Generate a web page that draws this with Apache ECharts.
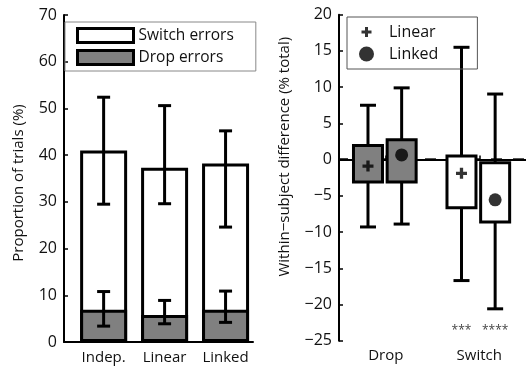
<!DOCTYPE html>
<html><head><meta charset="utf-8">
<script src="https://cdn.jsdelivr.net/npm/echarts@6/dist/echarts.min.js"></script>
<style>html,body{margin:0;padding:0;background:#fff}#c{width:526px;height:368px}</style>
</head><body><div id="c"></div>
<script>
// ---- Left panel data ----
const categories = ['Indep.', 'Linear', 'Linked'];
const totalErrors = [41.0, 37.3, 38.2];
const totalErrLow = [29.5, 29.6, 24.6];
const totalErrHigh = [52.4, 50.6, 45.2];
const dropErrors = [6.9, 5.8, 6.9];
const dropErrLow = [3.4, 3.9, 4.2];
const dropErrHigh = [10.8, 8.9, 10.9];
const leftTicks = [0, 10, 20, 30, 40, 50, 60, 70];

// ---- Right panel data ----
const groups = ['Drop', 'Switch'];
const linearWhiskerLow = [-9.3, -16.7];
const linearQ1 = [-3.1, -6.65];
const linearQ3 = [1.95, 0.5];
const linearWhiskerHigh = [7.5, 15.5];
const linearMean = [-0.9, -1.9];
const linkedWhiskerLow = [-8.9, -20.6];
const linkedQ1 = [-3.1, -8.6];
const linkedQ3 = [2.75, -0.45];
const linkedWhiskerHigh = [9.9, 9.05];
const linkedMean = [0.65, -5.55];
const linearSig = ['', '***'];
const linkedSig = ['', '****'];
const rightTicks = [-25, -20, -15, -10, -5, 0, 5, 10, 15, 20];
const referenceLine = [0];

const FONT = 'Open Sans';
const TXT = '#111';
const GRAY = '#808080';
const OFF_LINEAR = -0.19, OFF_LINKED = 0.17;

const chart = echarts.init(document.getElementById('c'), null, {renderer: 'canvas'});

function errRender(lowArr, highArr) {
  return function (params, api) {
    const i = params.dataIndex;
    const x = api.value(0);
    const lo = api.coord([x, lowArr[i]]);
    const hi = api.coord([x, highArr[i]]);
    const w = 6.5;
    const st = {stroke: '#000', lineWidth: 3, fill: null};
    return {type: 'group', children: [
      {type: 'line', shape: {x1: lo[0], y1: lo[1], x2: hi[0], y2: hi[1]}, style: st},
      {type: 'line', shape: {x1: lo[0] - w, y1: lo[1], x2: lo[0] + w, y2: lo[1]}, style: st},
      {type: 'line', shape: {x1: hi[0] - w, y1: hi[1], x2: hi[0] + w, y2: hi[1]}, style: st}
    ]};
  };
}

function boxRender(wl, q1, q3, wh, sig) {
  return function (params, api) {
    const i = params.dataIndex;
    const x = api.value(0);
    const pWL = api.coord([x, wl[i]]);
    const pQ1 = api.coord([x, q1[i]]);
    const pQ3 = api.coord([x, q3[i]]);
    const pWH = api.coord([x, wh[i]]);
    const hw = 14.5, cw = 8;
    const st = {stroke: '#000', lineWidth: 3, fill: null};
    const cx = pQ1[0];
    const children = [
      {type: 'line', shape: {x1: cx, y1: pQ3[1], x2: cx, y2: pWH[1]}, style: st},
      {type: 'line', shape: {x1: cx - cw, y1: pWH[1], x2: cx + cw, y2: pWH[1]}, style: st},
      {type: 'line', shape: {x1: cx, y1: pQ1[1], x2: cx, y2: pWL[1]}, style: st},
      {type: 'line', shape: {x1: cx - cw, y1: pWL[1], x2: cx + cw, y2: pWL[1]}, style: st},
      {type: 'rect', shape: {x: cx - hw, y: pQ3[1], width: 2 * hw, height: pQ1[1] - pQ3[1]},
        style: {fill: i === 0 ? GRAY : '#fff', stroke: '#000', lineWidth: 3}}
    ];
    if (sig[i]) {
      const ps = api.coord([x, -23.6]);
      children.push({type: 'text', x: ps[0], y: ps[1],
        style: {text: sig[i], fill: '#444', font: '12px "' + FONT + '"', align: 'center', verticalAlign: 'middle'}});
    }
    return {type: 'group', children};
  };
}

function refLineRender(params, api) {
  const cs = params.coordSys;
  const p = api.coord([1, api.value(0)]);
  return {type: 'line', shape: {x1: cs.x, y1: p[1], x2: cs.x + cs.width, y2: p[1]},
    style: {stroke: '#000', lineWidth: 2.5, lineDash: [11, 11], lineDashOffset: 2}};
}

const axisLine = {show: true, lineStyle: {color: '#000', width: 2}};
const minusFmt = v => String(v).replace('-', '\u2212');

const option = {
  animation: false,
  backgroundColor: '#fff',
  textStyle: {fontFamily: FONT, color: TXT},
  grid: [
    {left: 64, top: 15, width: 189, height: 327},
    {left: 339, top: 14.7, width: 202, height: 326}
  ],
  xAxis: [
    {gridIndex: 0, type: 'value', min: 0.35, max: 3.45, axisLine,
      splitLine: {show: false}, axisTick: {show: false},
      axisLabel: {customValues: [1, 2, 3], formatter: v => categories[Math.round(v) - 1],
        fontSize: 15, color: TXT, fontFamily: FONT, margin: 8}},
    {gridIndex: 1, type: 'value', min: 0.5, max: 2.5, axisLine,
      splitLine: {show: false},
      axisTick: {show: true, inside: true, length: 4, customValues: [1, 2], lineStyle: {color: '#000', width: 1.5}},
      axisLabel: {customValues: [1, 2], formatter: v => groups[Math.round(v) - 1],
        fontSize: 15, color: TXT, fontFamily: FONT, margin: 8}}
  ],
  yAxis: [
    {gridIndex: 0, type: 'value', min: leftTicks[0], max: leftTicks[leftTicks.length - 1], interval: 10,
      axisLine, splitLine: {show: false},
      axisTick: {show: true, inside: true, length: 4, lineStyle: {color: '#000', width: 1.5}},
      axisLabel: {fontSize: 16, color: TXT, fontFamily: FONT, margin: 7},
      name: 'Proportion of trials (%)', nameLocation: 'middle', nameGap: 38, nameRotate: 90,
      nameTextStyle: {fontSize: 15, color: TXT, fontFamily: FONT, padding: [0, 9, 0, 0]}},
    {gridIndex: 1, type: 'value', min: rightTicks[0], max: rightTicks[rightTicks.length - 1], interval: 5,
      axisLine, splitLine: {show: false},
      axisTick: {show: true, inside: true, length: 4, lineStyle: {color: '#000', width: 1.5}},
      axisLabel: {fontSize: 16, color: TXT, fontFamily: FONT, margin: 7, formatter: minusFmt},
      name: 'Within\u2212subject difference (% total)', nameLocation: 'middle', nameGap: 47, nameRotate: 90,
      nameTextStyle: {fontSize: 15, color: TXT, fontFamily: FONT, padding: [0, 0, 0, 42]}}
  ],
  legend: [
    {orient: 'vertical', left: 65, top: 22, padding: [5, 22, 5, 11], itemGap: 5,
      itemWidth: 56, itemHeight: 14, borderColor: '#888', borderWidth: 1,
      textStyle: {fontSize: 15.5, color: TXT, fontFamily: FONT},
      data: [
        {name: 'Switch errors', icon: 'rect', itemStyle: {color: '#fff', borderColor: '#000', borderWidth: 3}},
        {name: 'Drop errors', icon: 'rect', itemStyle: {color: GRAY, borderColor: '#000', borderWidth: 3}}
      ]},
    {orient: 'vertical', left: 347, top: 17, padding: [7, 39, 7, 12], itemGap: 6,
      itemWidth: 15, itemHeight: 15, borderColor: '#555', borderWidth: 1,
      textStyle: {fontSize: 16, color: TXT, fontFamily: FONT, padding: [0, 0, 0, 10]},
      data: [
        {name: 'Linear', icon: 'path://M0,0M15,15M6,2.5h3v3.5h3.5v3h-3.5v3.5h-3v-3.5h-3.5v-3h3.5z', itemStyle: {color: '#000'}},
        {name: 'Linked', icon: 'circle', itemStyle: {color: '#000'}}
      ]}
  ],
  series: [
    {name: 'Switch errors', type: 'bar', xAxisIndex: 0, yAxisIndex: 0, barWidth: 47, barGap: '-100%',
      itemStyle: {color: '#fff', borderColor: '#000', borderWidth: 3},
      data: totalErrors.map((v, i) => [i + 1, v]), z: 2},
    {name: 'Drop errors', type: 'bar', xAxisIndex: 0, yAxisIndex: 0, barWidth: 47, barGap: '-100%',
      itemStyle: {color: GRAY, borderColor: '#000', borderWidth: 3},
      data: dropErrors.map((v, i) => [i + 1, v]), z: 3},
    {type: 'custom', xAxisIndex: 0, yAxisIndex: 0, z: 4,
      renderItem: errRender(totalErrLow, totalErrHigh),
      data: totalErrors.map((v, i) => [i + 1, v])},
    {type: 'custom', xAxisIndex: 0, yAxisIndex: 0, z: 5,
      renderItem: errRender(dropErrLow, dropErrHigh),
      data: dropErrors.map((v, i) => [i + 1, v])},
    {type: 'custom', xAxisIndex: 1, yAxisIndex: 1, z: 1, clip: true,
      renderItem: refLineRender, data: referenceLine.map(v => [v])},
    {type: 'custom', xAxisIndex: 1, yAxisIndex: 1, z: 3,
      renderItem: boxRender(linearWhiskerLow, linearQ1, linearQ3, linearWhiskerHigh, linearSig),
      data: linearMean.map((v, i) => [i + 1 + OFF_LINEAR, v])},
    {type: 'custom', xAxisIndex: 1, yAxisIndex: 1, z: 3,
      renderItem: boxRender(linkedWhiskerLow, linkedQ1, linkedQ3, linkedWhiskerHigh, linkedSig),
      data: linkedMean.map((v, i) => [i + 1 + OFF_LINKED, v])},
    {name: 'Linear', type: 'scatter', xAxisIndex: 1, yAxisIndex: 1, z: 6,
      symbol: 'path://M3.5,0h3v3.5h3.5v3h-3.5v3.5h-3v-3.5h-3.5v-3h3.5z', symbolSize: 11,
      itemStyle: {color: '#000'},
      data: linearMean.map((v, i) => [i + 1 + OFF_LINEAR, v])},
    {name: 'Linked', type: 'scatter', xAxisIndex: 1, yAxisIndex: 1, z: 6,
      symbol: 'circle', symbolSize: 13, itemStyle: {color: '#000'},
      data: linkedMean.map((v, i) => [i + 1 + OFF_LINKED, v])}
  ]
};
chart.setOption(option);
</script></body></html>
